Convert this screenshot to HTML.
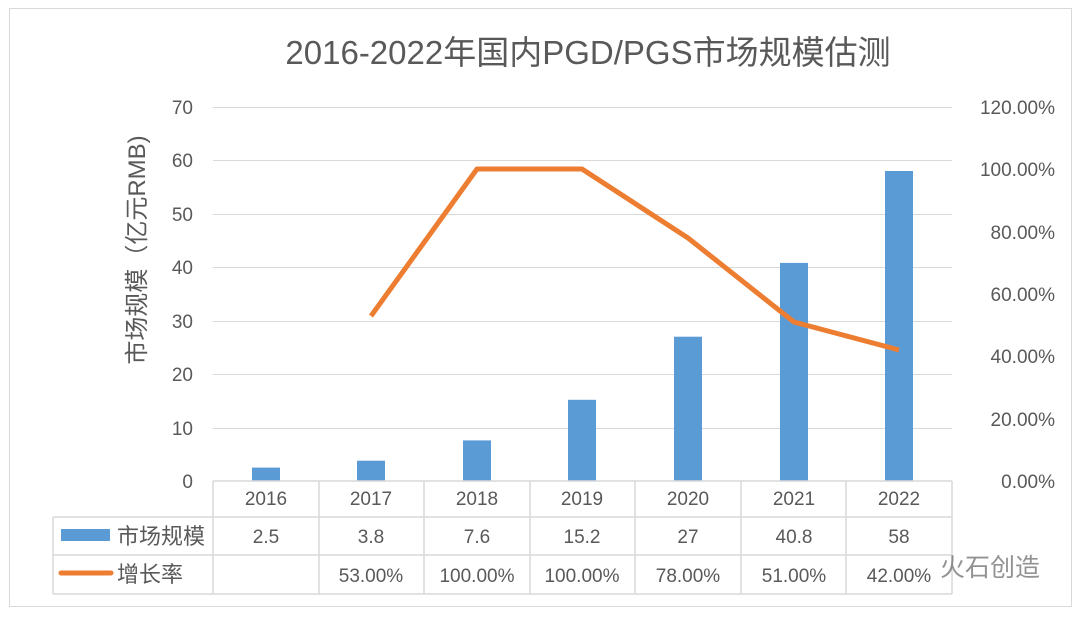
<!DOCTYPE html>
<html><head><meta charset="utf-8"><style>body{margin:0;background:#fff}</style></head><body>
<svg width="1080" height="613" xmlns="http://www.w3.org/2000/svg" font-family="Liberation Sans, Noto Sans CJK SC, sans-serif">
<rect x="0" y="0" width="1080" height="613" fill="#fff"/>
<rect x="9.5" y="8.5" width="1062" height="598" fill="none" stroke="#d9d9d9"/>
<text x="588" y="64" font-size="33" fill="#595959" text-anchor="middle">2016-2022年国内PGD/PGS市场规模估测</text>
<g stroke="#d9d9d9" stroke-width="1">
<line x1="213" x2="952" y1="107.5" y2="107.5"/><line x1="213" x2="952" y1="160.5" y2="160.5"/>
<line x1="213" x2="952" y1="214.5" y2="214.5"/><line x1="213" x2="952" y1="267.5" y2="267.5"/>
<line x1="213" x2="952" y1="321.5" y2="321.5"/><line x1="213" x2="952" y1="374.5" y2="374.5"/>
<line x1="213" x2="952" y1="428.5" y2="428.5"/>
</g>
<g fill="#5b9bd5">
<rect x="252" y="467.6" width="28" height="13.4"/>
<rect x="357" y="460.7" width="28" height="20.3"/>
<rect x="463" y="440.4" width="28" height="40.6"/>
<rect x="568" y="399.8" width="28" height="81.2"/>
<rect x="674" y="336.7" width="28" height="144.3"/>
<rect x="780" y="262.9" width="28" height="218.1"/>
<rect x="885" y="171" width="28" height="310"/>
</g>
<polyline points="371,316 477,169 582,169 688,238 794,322 899,350" fill="none" stroke="#ed7d31" stroke-width="5" stroke-linejoin="round"/>
<g font-size="19" fill="#595959" text-anchor="end">
<text x="193" y="114">70</text><text x="193" y="167">60</text><text x="193" y="221">50</text>
<text x="193" y="274">40</text><text x="193" y="328">30</text><text x="193" y="381">20</text>
<text x="193" y="435">10</text><text x="193" y="488">0</text>
</g>
<g font-size="19" fill="#595959" text-anchor="end">
<text x="1055" y="114">120.00%</text><text x="1055" y="176">100.00%</text><text x="1055" y="239">80.00%</text>
<text x="1055" y="301">60.00%</text><text x="1055" y="363">40.00%</text><text x="1055" y="426">20.00%</text>
<text x="1055" y="488">0.00%</text>
</g>
<text transform="translate(145,250) rotate(-90)" font-size="24" fill="#595959" text-anchor="middle">市场规模（亿元RMB)</text>
<g stroke="#d9d9d9" stroke-width="1.5" fill="none">
<line x1="213" x2="952" y1="481" y2="481"/><line x1="53" x2="952" y1="517" y2="517"/>
<line x1="53" x2="952" y1="555" y2="555"/><line x1="53" x2="952" y1="594" y2="594"/>
<line x1="53" x2="53" y1="517" y2="594"/>
<line x1="213" x2="213" y1="481" y2="594"/><line x1="319" x2="319" y1="481" y2="594"/>
<line x1="424" x2="424" y1="481" y2="594"/><line x1="530" x2="530" y1="481" y2="594"/>
<line x1="635" x2="635" y1="481" y2="594"/><line x1="741" x2="741" y1="481" y2="594"/>
<line x1="846" x2="846" y1="481" y2="594"/><line x1="952" x2="952" y1="481" y2="594"/>
</g>
<g font-size="19" fill="#595959" text-anchor="middle">
<text x="266" y="505">2016</text><text x="371" y="505">2017</text><text x="477" y="505">2018</text>
<text x="582" y="505">2019</text><text x="688" y="505">2020</text><text x="794" y="505">2021</text><text x="899" y="505">2022</text>
<text x="266" y="543">2.5</text><text x="371" y="543">3.8</text><text x="477" y="543">7.6</text>
<text x="582" y="543">15.2</text><text x="688" y="543">27</text><text x="794" y="543">40.8</text><text x="899" y="543">58</text>
<text x="371" y="582">53.00%</text><text x="477" y="582">100.00%</text>
<text x="582" y="582">100.00%</text><text x="688" y="582">78.00%</text><text x="794" y="582">51.00%</text><text x="899" y="582">42.00%</text>
</g>
<rect x="61" y="529" width="49" height="12" fill="#5b9bd5"/>
<text x="117" y="544" font-size="22" fill="#595959">市场规模</text>
<line x1="61" x2="111" y1="573" y2="573" stroke="#ed7d31" stroke-width="5" stroke-linecap="round"/>
<text x="117" y="582" font-size="22" fill="#595959">增长率</text>
<text x="940" y="576" font-size="25" fill="#777" opacity="0.8">火石创造</text>
</svg>
</body></html>
